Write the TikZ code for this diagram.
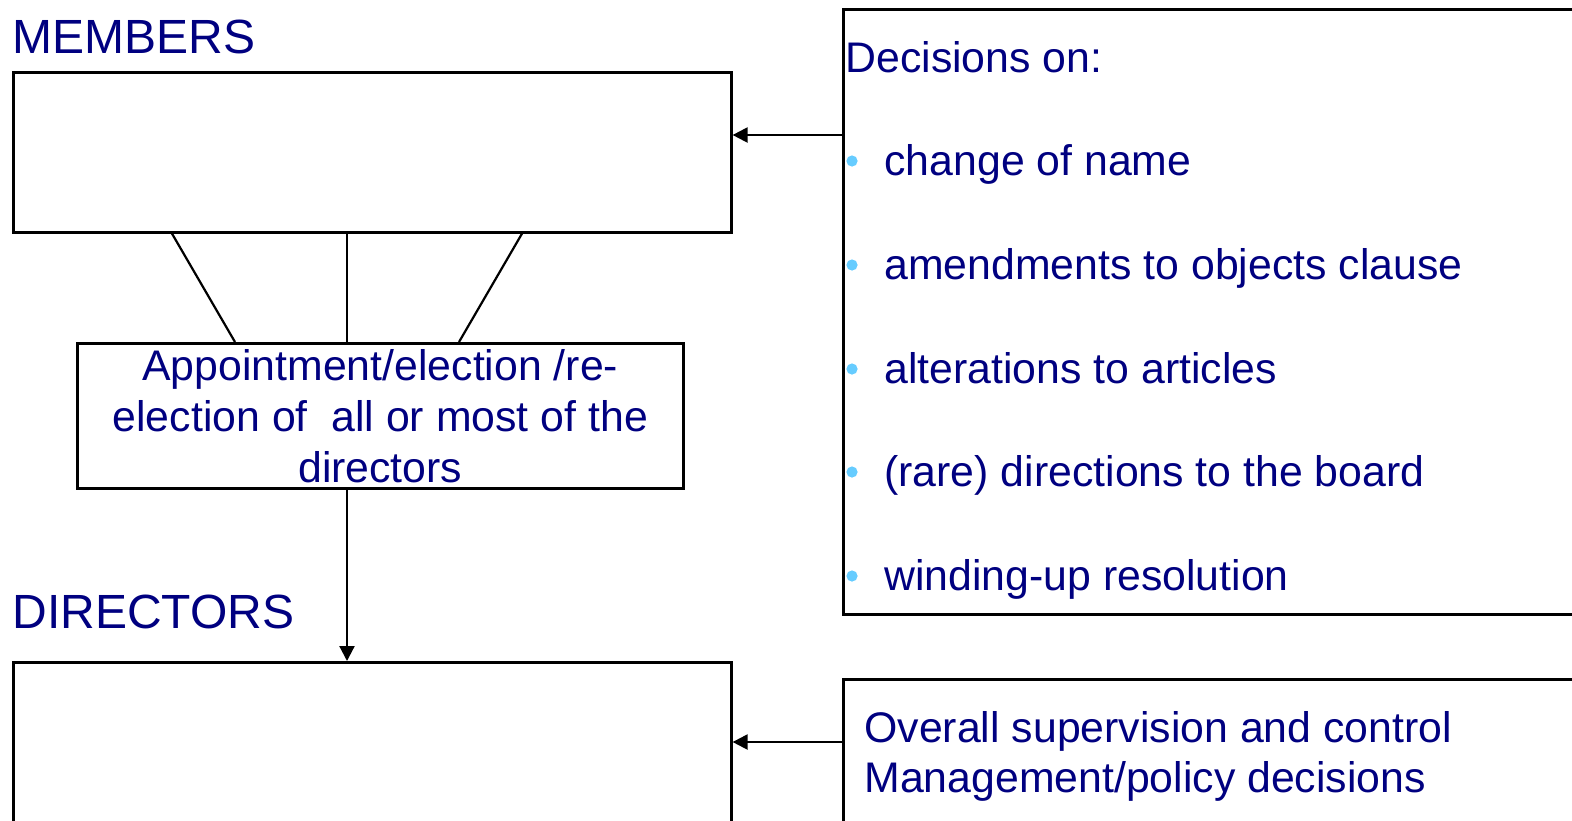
\documentclass[tikz,border=0pt]{standalone}
\usepackage{fontspec}
\setmainfont{Liberation Sans}
\usetikzlibrary{arrows.meta}
\definecolor{navy}{HTML}{000080}
\definecolor{dotblue}{HTML}{66CCFF}
\tikzset{
  box/.style={draw, line width=1.3pt, anchor=north west, inner sep=0pt},
  head/.style={text=navy, anchor=base west, inner sep=0pt, font=\fontsize{24}{28}\selectfont},
  txt/.style={text=navy, anchor=base west, inner sep=0pt, font=\fontsize{21.4}{25.5}\selectfont},
  arr/.style={line width=1.1pt, -{Triangle[length=7.5pt,width=7.5pt]}},
  ln/.style={line width=1.1pt}
}
\begin{document}
\begin{tikzpicture}[x=0.5pt,y=-0.5pt]
\clip (0,0) rectangle (1572,820);
% left column
\node[head] (memtitle) at (12,53) {MEMBERS};
\node[box, minimum width=359pt, minimum height=80pt] (members) at (12,71) {};
\node[box, minimum width=303pt, minimum height=72.5pt, text=navy, align=center,
      font=\fontsize{21.4}{25.5}\selectfont] (appoint) at (76,342)
      {Appointment/election /re-\\election of\ \ all or most of the\\directors};
\node[head] (dirtitle) at (12,628) {DIRECTORS};
\node[box, minimum width=359pt, minimum height=130pt] (directors) at (12,661) {};
% right column
\node[box, minimum width=379pt, minimum height=302.5pt] (decisions) at (842,8) {};
\node[txt] (declabel) at (845,72) {Decisions on:};
\node[txt] (item1) at (884,175) {change of name};
\node[txt] (item2) at (884,279) {amendments to objects clause};
\node[txt] (item3) at (884,383) {alterations to articles};
\node[txt] (item4) at (884,486) {(rare) directions to the board};
\node[txt] (item5) at (884,590) {winding-up resolution};
\foreach \y in {161,265,369,472,576}
  \fill[dotblue] (852,\y) circle (2.8pt);
\node[box, minimum width=379pt, minimum height=111pt] (control) at (842,678) {};
\node[txt] (ctl1) at (864,742) {Overall supervision and control};
\node[txt] (ctl2) at (864,792) {Management/policy decisions};
% connectors
\coordinate (m1) at (730,135);
\coordinate (d1) at (730,742);
\draw[arr] (decisions.west |- m1) -- (members.east |- m1);
\draw[arr] (control.west |- d1) -- (directors.east |- d1);
\draw[ln] (members.south -| 172,0) -- (appoint.north -| 235,0);
\draw[ln] (members.south -| 347,0) -- (appoint.north -| 347,0);
\draw[ln] (members.south -| 522,0) -- (appoint.north -| 459,0);
\draw[arr] (appoint.south -| 347,0) -- (directors.north -| 347,0);
\end{tikzpicture}
\end{document}
